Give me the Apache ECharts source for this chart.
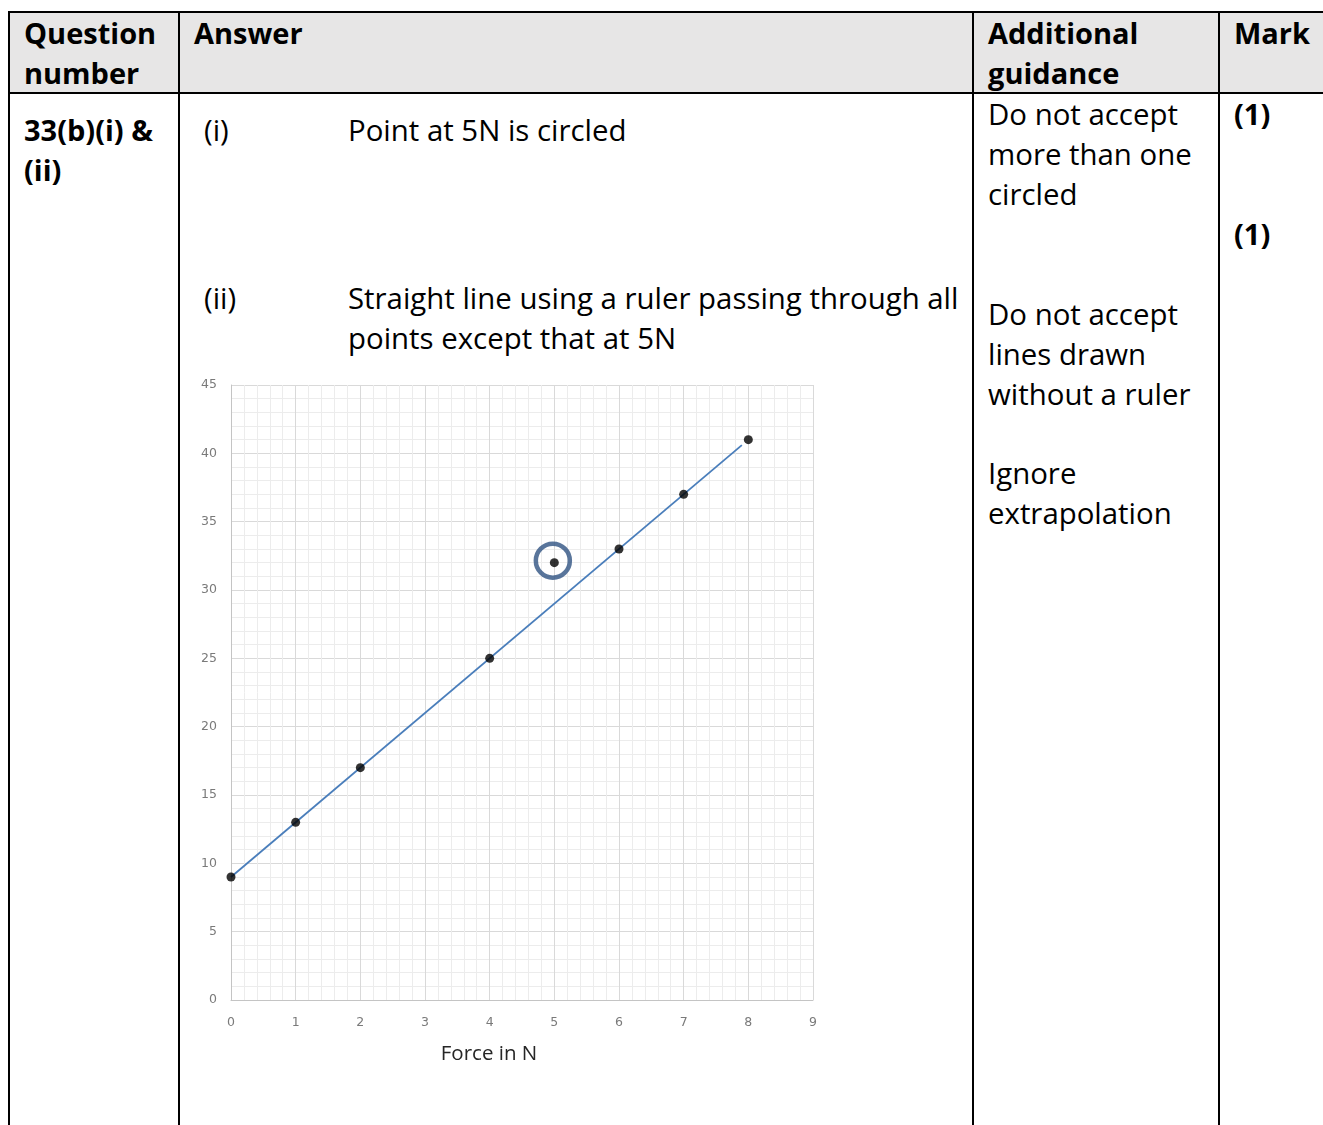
<!DOCTYPE html>
<html>
<head>
<meta charset="utf-8">
<script src="https://cdn.jsdelivr.net/npm/echarts@6/dist/echarts.min.js"></script>
<style>
  html, body { margin: 0; padding: 0; background: #fff; width: 1323px; height: 1125px; overflow: hidden; }
  body { position: relative; font-family: 'Open Sans', sans-serif; color: #000; }
  .t { position: absolute; font-size: 29.4px; line-height: 40px; white-space: nowrap; }
  .b { font-weight: bold; font-size: 29px; }
  .ln { position: absolute; background: #000; }
  #hdr { position: absolute; left: 10px; top: 13px; width: 1313px; height: 79px; background: #e7e6e6; }
  #chart { position: absolute; left: 181px; top: 360px; width: 791px; height: 765px; }
</style>
</head>
<body>
<div id="hdr"></div>
<div id="chart"></div>

<!-- table rules -->
<div class="ln" style="left:8px; top:11px; width:1315px; height:2px;"></div>
<div class="ln" style="left:8px; top:92px; width:1315px; height:2px;"></div>
<div class="ln" style="left:8px; top:11px; width:2px; height:1114px;"></div>
<div class="ln" style="left:178px; top:11px; width:2px; height:1114px;"></div>
<div class="ln" style="left:972px; top:11px; width:2px; height:1114px;"></div>
<div class="ln" style="left:1218px; top:11px; width:2px; height:1114px;"></div>

<!-- header -->
<div class="t b" style="left:24px; top:13px;">Question</div>
<div class="t b" style="left:24px; top:53px;">number</div>
<div class="t b" style="left:194px; top:13px;">Answer</div>
<div class="t b" style="left:988px; top:13px;">Additional</div>
<div class="t b" style="left:988px; top:53px;">guidance</div>
<div class="t b" style="left:1234px; top:13px;">Mark</div>

<!-- body -->
<div class="t b" style="left:24px; top:110px;">33(b)(i) &amp;</div>
<div class="t b" style="left:24px; top:150px;">(ii)</div>

<div class="t" style="left:204px; top:110px;">(i)</div>
<div class="t" style="left:348px; top:110px;">Point at 5N is circled</div>
<div class="t" style="left:204px; top:278px;">(ii)</div>
<div class="t" style="left:348px; top:278px;">Straight line using a ruler passing through all</div>
<div class="t" style="left:348px; top:318px;">points except that at 5N</div>

<div class="t" style="left:988px; top:94px;">Do not accept</div>
<div class="t" style="left:988px; top:134px;">more than one</div>
<div class="t" style="left:988px; top:174px;">circled</div>
<div class="t" style="left:988px; top:294px;">Do not accept</div>
<div class="t" style="left:988px; top:334px;">lines drawn</div>
<div class="t" style="left:988px; top:374px;">without a ruler</div>
<div class="t" style="left:988px; top:453px;">Ignore</div>
<div class="t" style="left:988px; top:493px;">extrapolation</div>

<div class="t b" style="left:1234px; top:94px;">(1)</div>
<div class="t b" style="left:1234px; top:214px;">(1)</div>

<script>
// ---- data ----
const forceN    = [0, 1, 2, 4, 5, 6, 7, 8];
const extension = [9, 13, 17, 25, 32, 33, 37, 41];
const circledPoint = [5, 32];          // anomalous point that is circled
const fitLineX = [0, 7.9];             // ruled best-fit line end points
const fitLineY = [9, 40.6];
const xTicks = [0, 1, 2, 3, 4, 5, 6, 7, 8, 9];
const yTicks = [0, 5, 10, 15, 20, 25, 30, 35, 40, 45];
const xAxisName = 'Force in N';

const chart = echarts.init(document.getElementById('chart'), null, { renderer: 'canvas' });

const axisLabelStyle = { color: '#7a7a7a', fontSize: 12.5, fontFamily: 'DejaVu Sans' };

chart.setOption({
  animation: false,
  backgroundColor: 'transparent',
  title: {
    text: xAxisName,
    left: 303,
    top: 679,
    textAlign: 'center',
    textStyle: { fontFamily: 'Open Sans', fontSize: 20.5, fontWeight: 'normal', color: '#262626' }
  },
  grid: { left: 50, top: 25, width: 582, height: 615, show: false },
  xAxis: {
    type: 'value',
    min: xTicks[0], max: xTicks[xTicks.length - 1], interval: 1,
    axisLine: { show: true, lineStyle: { color: '#c4c4c4', width: 1 } },
    axisTick: { show: false },
    axisLabel: Object.assign({ margin: 16 }, axisLabelStyle),
    splitLine: { show: true, lineStyle: { color: '#d9d9d9', width: 1 } },
    minorTick: { show: false, splitNumber: 5 },
    minorSplitLine: { show: true, lineStyle: { color: '#ececec', width: 1 } }
  },
  yAxis: {
    type: 'value',
    min: yTicks[0], max: yTicks[yTicks.length - 1], interval: 5,
    axisLine: { show: true, lineStyle: { color: '#c4c4c4', width: 1 } },
    axisTick: { show: false },
    axisLabel: Object.assign({ margin: 14, padding: [4, 0, 0, 0] }, axisLabelStyle),
    splitLine: { show: true, lineStyle: { color: '#d9d9d9', width: 1 } },
    minorTick: { show: false, splitNumber: 5 },
    minorSplitLine: { show: true, lineStyle: { color: '#ececec', width: 1 } }
  },
  series: [
    {
      type: 'line',
      data: fitLineX.map((x, i) => [x, fitLineY[i]]),
      showSymbol: false,
      symbol: 'none',
      lineStyle: { color: '#4a7ebb', width: 1.8 },
      z: 2,
      silent: true
    },
    {
      type: 'scatter',
      data: forceN.map((x, i) => [x, extension[i]]),
      symbol: 'circle',
      symbolSize: 9,
      itemStyle: { color: '#000' },
      z: 3
    },
    {
      type: 'scatter',
      data: [circledPoint],
      symbol: 'circle',
      symbolSize: 34,
      symbolOffset: [-1.5, -2],
      itemStyle: { color: 'rgba(0,0,0,0)', borderColor: '#2f5282', borderWidth: 4.5 },
      z: 4
    }
  ]
});
</script>
</body>
</html>
